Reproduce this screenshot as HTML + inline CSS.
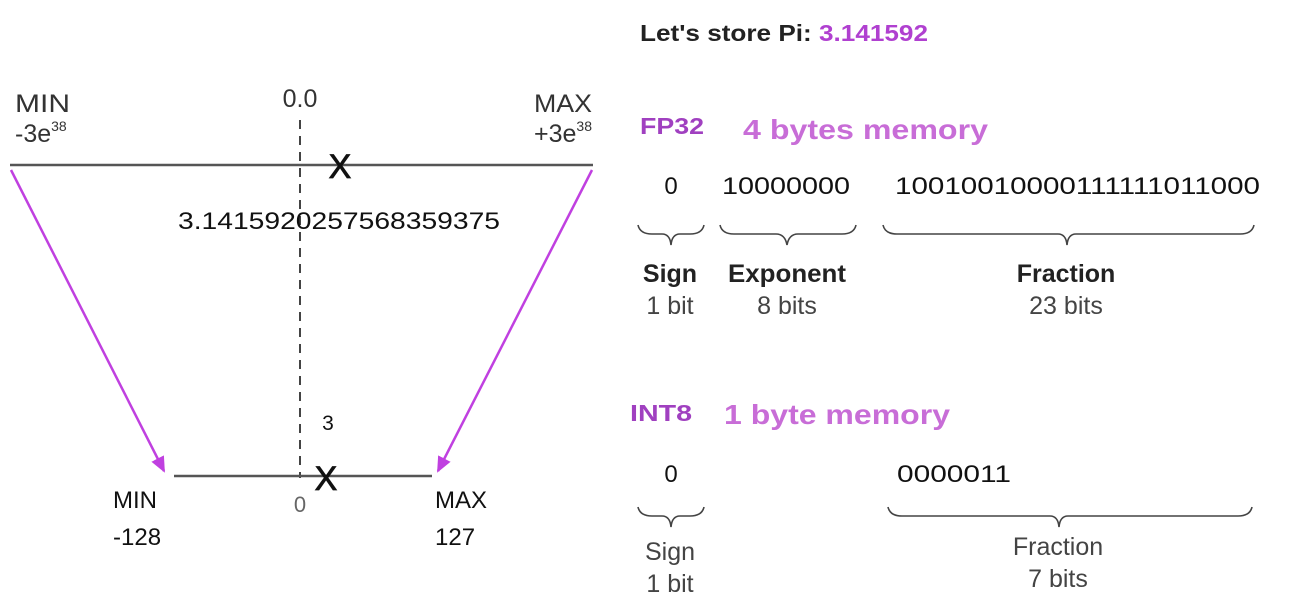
<!DOCTYPE html>
<html><head><meta charset="utf-8"><style>
html,body{margin:0;padding:0;background:#fff;width:1300px;height:614px;overflow:hidden}
svg{display:block;font-family:"Liberation Sans",sans-serif}
</style></head><body>
<svg width="1300" height="614" viewBox="0 0 1300 614">
<defs>
<marker id="ah" markerWidth="16" markerHeight="16" refX="14" refY="7" orient="auto" markerUnits="userSpaceOnUse" viewBox="0 0 16 14">
<path d="M0,0 L16,7 L0,14 z" fill="#c040e0"/></marker>
</defs>
<text x="640" y="41" font-size="23" font-weight="bold" fill="#222" textLength="288" lengthAdjust="spacingAndGlyphs">Let's store Pi: <tspan fill="#b040d0">3.141592</tspan></text>
<g fill="#333" font-size="25">
<text x="15" y="112" textLength="55" lengthAdjust="spacingAndGlyphs">MIN</text>
<text x="15" y="142">-3e<tspan font-size="14" dy="-11">38</tspan></text>
<text x="300" y="107" text-anchor="middle">0.0</text>
<text x="592" y="112" text-anchor="end" textLength="58" lengthAdjust="spacingAndGlyphs">MAX</text>
<text x="592" y="142" text-anchor="end">+3e<tspan font-size="14" dy="-11">38</tspan></text>
</g>
<line x1="10" y1="165" x2="593" y2="165" stroke="#555" stroke-width="2.5"/>
<line x1="300" y1="120" x2="300" y2="478" stroke="#444" stroke-width="2" stroke-dasharray="9,7"/>
<text x="340" y="178" font-size="34" text-anchor="middle" fill="#111" stroke="#111" stroke-width="0.8">X</text>
<text x="178" y="229" font-size="24" fill="#111" textLength="322" lengthAdjust="spacingAndGlyphs">3.1415920257568359375</text>
<line x1="11" y1="170" x2="164" y2="471" stroke="#c040e0" stroke-width="2.5" marker-end="url(#ah)"/>
<line x1="592" y1="170" x2="438" y2="471" stroke="#c040e0" stroke-width="2.5" marker-end="url(#ah)"/>
<line x1="174" y1="476" x2="432" y2="476" stroke="#555" stroke-width="2.5"/>
<text x="328" y="430" font-size="21" text-anchor="middle" fill="#111">3</text>
<text x="326" y="490" font-size="34" text-anchor="middle" fill="#111" stroke="#111" stroke-width="0.8">X</text>
<g fill="#111" font-size="24">
<text x="113" y="508">MIN</text>
<text x="113" y="545">-128</text>
<text x="435" y="508">MAX</text>
<text x="435" y="545">127</text>
</g>
<text x="300" y="512" font-size="22" text-anchor="middle" fill="#666">0</text>
<text x="640" y="134" font-size="23" font-weight="bold" fill="#a040c0" textLength="64" lengthAdjust="spacingAndGlyphs">FP32</text>
<text x="743" y="139" font-size="28" font-weight="bold" fill="#c86dd7" textLength="245" lengthAdjust="spacingAndGlyphs">4 bytes memory</text>
<g fill="#111" font-size="24">
<text x="671" y="194" text-anchor="middle">0</text>
<text x="722" y="194" textLength="128" lengthAdjust="spacingAndGlyphs">10000000</text>
<text x="895" y="194" textLength="365" lengthAdjust="spacingAndGlyphs">10010010000111111011000</text>
</g>
<g fill="none" stroke="#444" stroke-width="1.6">
<path d="M638,225 Q640,234 652,234 L662,234 Q670,234 671,245 Q672,234 680,234 L690,234 Q702,234 704,225"/>
<path d="M720,225 Q722,234 734,234 L776,234 Q785,234 787,245 Q789,234 798,234 L842,234 Q854,234 856,225"/>
<path d="M883,225 Q885,234 897,234 L1058,234 Q1066,234 1067,245 Q1068,234 1076,234 L1240,234 Q1252,234 1254,225"/>
</g>
<g fill="#222" font-size="25" text-anchor="middle">
<text x="670" y="282" font-weight="bold">Sign</text>
<text x="670" y="314" fill="#444">1 bit</text>
<text x="787" y="282" font-weight="bold" textLength="118" lengthAdjust="spacingAndGlyphs">Exponent</text>
<text x="787" y="314" fill="#444">8 bits</text>
<text x="1066" y="282" font-weight="bold">Fraction</text>
<text x="1066" y="314" fill="#444">23 bits</text>
</g>
<text x="630" y="421" font-size="23" font-weight="bold" fill="#a040c0" textLength="62" lengthAdjust="spacingAndGlyphs">INT8</text>
<text x="724" y="424" font-size="28" font-weight="bold" fill="#c86dd7" textLength="226" lengthAdjust="spacingAndGlyphs">1 byte memory</text>
<g fill="#111" font-size="24">
<text x="671" y="482" text-anchor="middle">0</text>
<text x="897" y="482" textLength="114" lengthAdjust="spacingAndGlyphs">0000011</text>
</g>
<g fill="none" stroke="#444" stroke-width="1.6">
<path d="M638,507 Q640,516 652,516 L662,516 Q670,516 671,527 Q672,516 680,516 L690,516 Q702,516 704,507"/>
<path d="M888,507 Q890,516 902,516 L1050,516 Q1058,516 1059,527 Q1060,516 1068,516 L1238,516 Q1250,516 1252,507"/>
</g>
<g fill="#444" font-size="25" text-anchor="middle">
<text x="670" y="560">Sign</text>
<text x="670" y="592">1 bit</text>
<text x="1058" y="555">Fraction</text>
<text x="1058" y="587">7 bits</text>
</g>
</svg>
</body></html>
